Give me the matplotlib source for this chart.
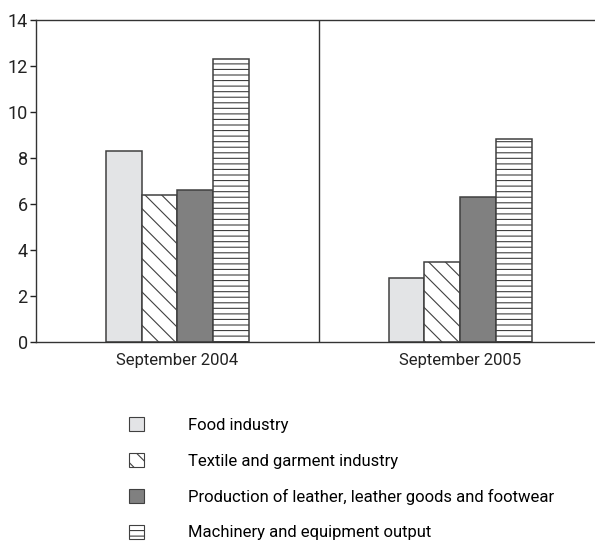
import numpy as np
import matplotlib
matplotlib.use('Agg')
import matplotlib.pyplot as plt
from matplotlib.patches import Patch

plt.rcParams['font.family'] = ['Roboto', 'DejaVu Sans']
plt.rcParams['hatch.linewidth'] = 0.8

periods = ['September 2004', 'September 2005']
industries = ['Food industry', 'Textile and garment industry',
              'Production of leather, leather goods and footwear',
              'Machinery and equipment output']
values = [[8.3, 2.8],
          [6.4, 3.5],
          [6.6, 6.3],
          [12.3, 8.8]]
y_ticks = [0, 2, 4, 6, 8, 10, 12, 14]

# fill colour and hatch per series
face_colors = ['#e3e4e6', 'white', '#808080', 'white']
hatches = [None, '\\\\', None, '---']
edge = '#404040'

fig = plt.figure(figsize=(5.95, 5.44), dpi=100)
ax = fig.add_axes([0.0605, 0.371, 0.951, 0.593])

x = np.arange(len(periods))
width = 0.127
for k in range(len(industries)):
    offset = (k - 1.5) * width
    ax.bar(x + offset, values[k], width, color=face_colors[k], edgecolor=edge,
           hatch=hatches[k], linewidth=1.1, zorder=2)

ax.axvline(0.5, color='#333333', lw=1.0)
ax.set_xlim(-0.5, 1.5)
ax.set_ylim(0, 14)
ax.set_yticks(y_ticks)
ax.set_xticks(x)
ax.set_xticklabels(periods)
ax.tick_params(axis='both', labelsize=12, colors='#222222')
ax.tick_params(axis='y', labelsize=13)
ax.tick_params(axis='x', length=0, pad=8)
ax.tick_params(axis='y', length=4, width=1.0, pad=2)
for side in ['left', 'bottom', 'top']:
    ax.spines[side].set_color('#333333')
    ax.spines[side].set_linewidth(1.0)
ax.spines['right'].set_visible(False)

# legend under the chart
handles = [Patch(facecolor=face_colors[k], edgecolor=edge, hatch=hatches[k], linewidth=0.8)
           for k in range(len(industries))]
fig.legend(handles, industries, loc='upper left', bbox_to_anchor=(0.205, 0.245),
           frameon=False, fontsize=12, handlelength=0.9, handleheight=0.9,
           handletextpad=2.65, labelspacing=1.2, borderaxespad=0.)

fig.savefig('out.png', dpi=100)
